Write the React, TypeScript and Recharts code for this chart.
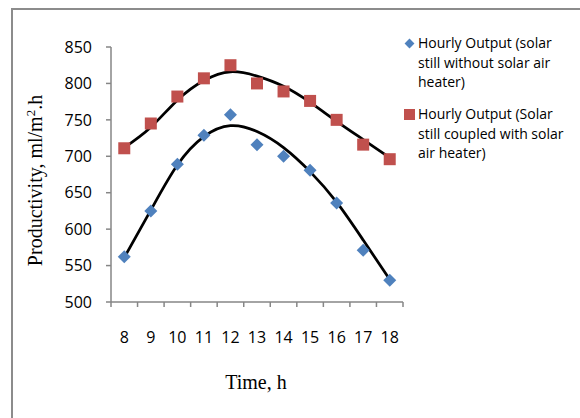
import { ComposedChart, Line, Scatter, XAxis, YAxis } from "recharts";

const HOURS = [8, 9, 10, 11, 12, 13, 14, 15, 16, 17, 18];
// measured hourly output, ml/m2.h
const WITHOUT_HEATER = [562, 625, 689, 729, 757, 716, 700, 681, 636, 571, 530];
const WITH_HEATER = [711, 745, 782, 807, 825, 800, 789, 776, 750, 716, 696];
// trend curves
const TREND_WITHOUT = [561, 626, 688, 727, 742, 734, 712, 679, 637, 585, 531];
const TREND_WITH = [712, 740, 777, 804, 816, 810, 796, 774, 748, 723, 698];
const Y_TICKS = [500, 550, 600, 650, 700, 750, 800, 850];

const LEGEND_WITHOUT = "Hourly Output (solar still without solar air heater)";
const LEGEND_WITH = "Hourly Output (Solar still coupled with solar air heater)";

const BLUE = "#4F81BD";
const RED = "#C0504D";
const AXIS = "#868686";
const TICK_FONT = "'Open Sans', sans-serif";
const SERIF = "'Liberation Serif', 'Times New Roman', serif";

const rows = HOURS.map((hour, i) => ({
  hour,
  without: WITHOUT_HEATER[i],
  withHeater: WITH_HEATER[i],
  trendWithout: TREND_WITHOUT[i],
  trendWith: TREND_WITH[i],
}));

// boundaries between hour categories carry the tick marks, hours carry the labels
const X_TICKS = [...HOURS.map((h) => h - 0.5), HOURS[HOURS.length - 1] + 0.5, ...HOURS].sort(
  (a, b) => a - b
);

function HourTick({ x, y, payload }: any) {
  const v = payload.value;
  if (Number.isInteger(v)) {
    return (
      <text x={x} y={y + 41} textAnchor="middle" fontSize={16} fontFamily={TICK_FONT} fill="#000">
        {v}
      </text>
    );
  }
  return <line x1={x} x2={x} y1={y} y2={y + 5} stroke={AXIS} strokeWidth={1.5} />;
}

function Diamond({ cx, cy }: any) {
  const r = 6.5;
  return <polygon points={`${cx},${cy - r} ${cx + r},${cy} ${cx},${cy + r} ${cx - r},${cy}`} fill={BLUE} />;
}

function Square({ cx, cy }: any) {
  return <rect x={cx - 6} y={cy - 6} width={12} height={12} fill={RED} />;
}

function YTitle({ viewBox }: any) {
  const cx = viewBox.x - 9;
  const cy = viewBox.y + viewBox.height / 2 + 6;
  return (
    <text
      transform={`translate(${cx},${cy}) rotate(-90)`}
      textAnchor="middle"
      fontFamily={SERIF}
      fontSize={20}
      fill="#000"
    >
      Productivity, ml/m
      <tspan dy={-7} fontSize={13}>2</tspan>
      <tspan dy={7}>.h</tspan>
    </text>
  );
}

function XTitle({ viewBox }: any) {
  return (
    <text
      x={viewBox.x + viewBox.width / 2 - 1}
      y={viewBox.y + 87}
      textAnchor="middle"
      fontFamily={SERIF}
      fontSize={20}
      fill="#000"
    >
      Time, h
    </text>
  );
}

function LegendItem({ marker, text }: { marker: "diamond" | "square"; text: string }) {
  return (
    <div style={{ position: "relative", paddingLeft: 26, width: 150 }}>
      <span
        style={
          marker === "diamond"
            ? {
                position: "absolute",
                left: 13.5,
                top: 6.5,
                width: 7,
                height: 7,
                background: BLUE,
                transform: "rotate(45deg)",
              }
            : { position: "absolute", left: 11.5, top: 4.5, width: 11, height: 11, background: RED }
        }
      />
      {text}
    </div>
  );
}

export default function App() {
  return (
    <div
      style={{
        position: "fixed",
        left: 0,
        top: 0,
        width: 580,
        height: 418,
        background: "#fff",
        overflow: "hidden",
      }}
    >
      <div
        style={{
          position: "absolute",
          left: 11,
          top: 8,
          right: -10,
          bottom: -10,
          borderTop: "2.5px solid #8c8c8c",
          borderLeft: "2.5px solid #8c8c8c",
        }}
      />
      <ComposedChart
        width={580}
        height={418}
        data={rows}
        margin={{ top: 47, right: 177, bottom: 76, left: 51 }}
        style={{ position: "absolute", left: 0, top: 0 }}
      >
        <XAxis
          dataKey="hour"
          type="number"
          domain={[7.5, 18.5]}
          ticks={X_TICKS}
          interval={0}
          height={40}
          tickSize={0}
          tickMargin={0}
          tickLine={false}
          axisLine={{ stroke: AXIS, strokeWidth: 1.5 }}
          tick={<HourTick />}
          label={{ content: <XTitle /> }}
        />
        <YAxis
          type="number"
          domain={[500, 850]}
          ticks={Y_TICKS}
          interval={0}
          width={60}
          tickSize={5}
          tickMargin={14}
          tickLine={{ stroke: AXIS, strokeWidth: 1.5 }}
          axisLine={{ stroke: AXIS, strokeWidth: 1.5 }}
          tick={{ fontSize: 16, fontFamily: TICK_FONT, fill: "#000" }}
          label={{ content: <YTitle /> }}
        />
        <Scatter dataKey="without" shape={<Diamond />} isAnimationActive={false} />
        <Scatter dataKey="withHeater" shape={<Square />} isAnimationActive={false} />
        <Line
          dataKey="trendWithout"
          type="natural"
          stroke="#000"
          strokeWidth={2.75}
          dot={false}
          activeDot={false}
          isAnimationActive={false}
        />
        <Line
          dataKey="trendWith"
          type="natural"
          stroke="#000"
          strokeWidth={2.75}
          dot={false}
          activeDot={false}
          isAnimationActive={false}
        />
      </ComposedChart>
      <div
        style={{
          position: "absolute",
          left: 392,
          top: 33,
          fontFamily: TICK_FONT,
          fontSize: 14,
          lineHeight: "19.5px",
          color: "#000",
        }}
      >
        <LegendItem marker="diamond" text={LEGEND_WITHOUT} />
        <div style={{ height: 12.5 }} />
        <LegendItem marker="square" text={LEGEND_WITH} />
      </div>
    </div>
  );
}
